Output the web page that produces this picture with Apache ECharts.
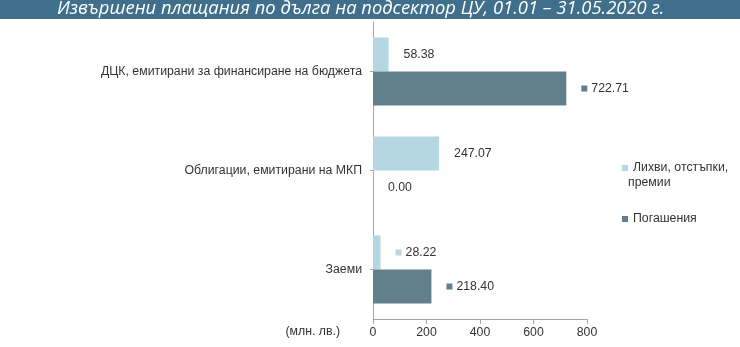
<!DOCTYPE html>
<html>
<head>
<meta charset="utf-8">
<script src="https://cdn.jsdelivr.net/npm/echarts@6/dist/echarts.min.js"></script>
<style>html,body{margin:0;padding:0;background:#fff}#c{width:740px;height:347px}</style>
</head>
<body>
<div id="c"></div>
<script>
var titleText = 'Извършени плащания по дълга на подсектор ЦУ, 01.01 – 31.05.2020 г.';
var unitText = '(млн. лв.)';
var categories = ['ДЦК, емитирани за финансиране на бюджета', 'Облигации, емитирани на МКП', 'Заеми'];
var seriesNames = ['Лихви, отстъпки, премии', 'Погашения'];
var legendLines = { 'Лихви, отстъпки, премии': ['Лихви, отстъпки,', 'премии'] };
var interestValues = [58.38, 247.07, 28.22];
var repaymentValues = [722.71, 0.00, 218.40];
var xTicks = [0, 200, 400, 600, 800];
// which data labels carry a small colour key before the number
var interestKey = [false, false, true];
var repaymentKey = [true, false, true];

var FONT = 'Liberation Sans';
var TXT = '#333333';
var LIGHT = '#b5d6e3';
var DARK = '#62808b';

function buildData(values, keys) {
  return values.map(function (v, i) {
    var lbl = keys[i]
      ? { distance: 15, formatter: '{s|}{v|' + v.toFixed(2) + '}' }
      : { distance: 11, formatter: '{v|' + v.toFixed(2) + '}' };
    return { value: v, label: lbl };
  });
}
function richFor(color) {
  return {
    s: { width: 6, height: 6, backgroundColor: color },
    v: { fontFamily: FONT, fontSize: 12.3, color: TXT, padding: [0, 0, 0, 4] }
  };
}

var chart = echarts.init(document.getElementById('c'));
chart.setOption({
  animation: false,
  backgroundColor: '#fff',
  graphic: [
    { type: 'rect', left: 0, top: 0, shape: { width: 740, height: 19 }, style: { fill: '#3f6f8b' }, z: 0 },
    { type: 'text', left: 57, top: 0, style: { text: titleText, fill: '#fff', font: 'italic 18.4px "Open Sans"' }, z: 1 },
    { type: 'text', right: 400, top: 326, style: { text: unitText, fill: TXT, font: '12.3px "' + FONT + '"' } },
    { type: 'text', left: 628, top: 177, style: { text: legendLines[seriesNames[0]][1], fill: TXT, font: '12.3px "' + FONT + '"' } }
  ],
  legend: {
    orient: 'vertical',
    left: 617,
    top: 155,
    itemWidth: 6,
    itemHeight: 6,
    itemGap: 35,
    icon: 'rect',
    data: seriesNames,
    formatter: function (name) { return legendLines[name] ? legendLines[name][0] : name; },
    textStyle: { fontFamily: FONT, fontSize: 12.3, color: TXT, lineHeight: 16 }
  },
  grid: { left: 373, right: 153, top: 22, bottom: 28, containLabel: false },
  xAxis: {
    type: 'value',
    min: xTicks[0],
    max: xTicks[xTicks.length - 1],
    interval: 200,
    splitLine: { show: false },
    axisLine: { show: true, lineStyle: { color: '#a6a6a6' } },
    axisTick: { show: true, length: 5, lineStyle: { color: '#a6a6a6' } },
    axisLabel: { fontFamily: FONT, fontSize: 12.3, color: TXT, margin: 8 }
  },
  yAxis: {
    type: 'category',
    inverse: true,
    data: categories,
    axisLine: { lineStyle: { color: '#a6a6a6' } },
    axisTick: { show: true, alignWithLabel: true, length: 3, lineStyle: { color: '#a6a6a6' } },
    axisLabel: { fontFamily: FONT, fontSize: 12.3, color: TXT, margin: 11 }
  },
  series: [
    {
      name: seriesNames[0], type: 'bar', barWidth: 34, barGap: '0%',
      itemStyle: { color: LIGHT },
      label: { show: true, position: 'right', rich: richFor(LIGHT) },
      data: buildData(interestValues, interestKey)
    },
    {
      name: seriesNames[1], type: 'bar', barWidth: 34, barGap: '0%',
      itemStyle: { color: DARK },
      label: { show: true, position: 'right', rich: richFor(DARK) },
      data: buildData(repaymentValues, repaymentKey)
    }
  ]
});
</script>
</body>
</html>
